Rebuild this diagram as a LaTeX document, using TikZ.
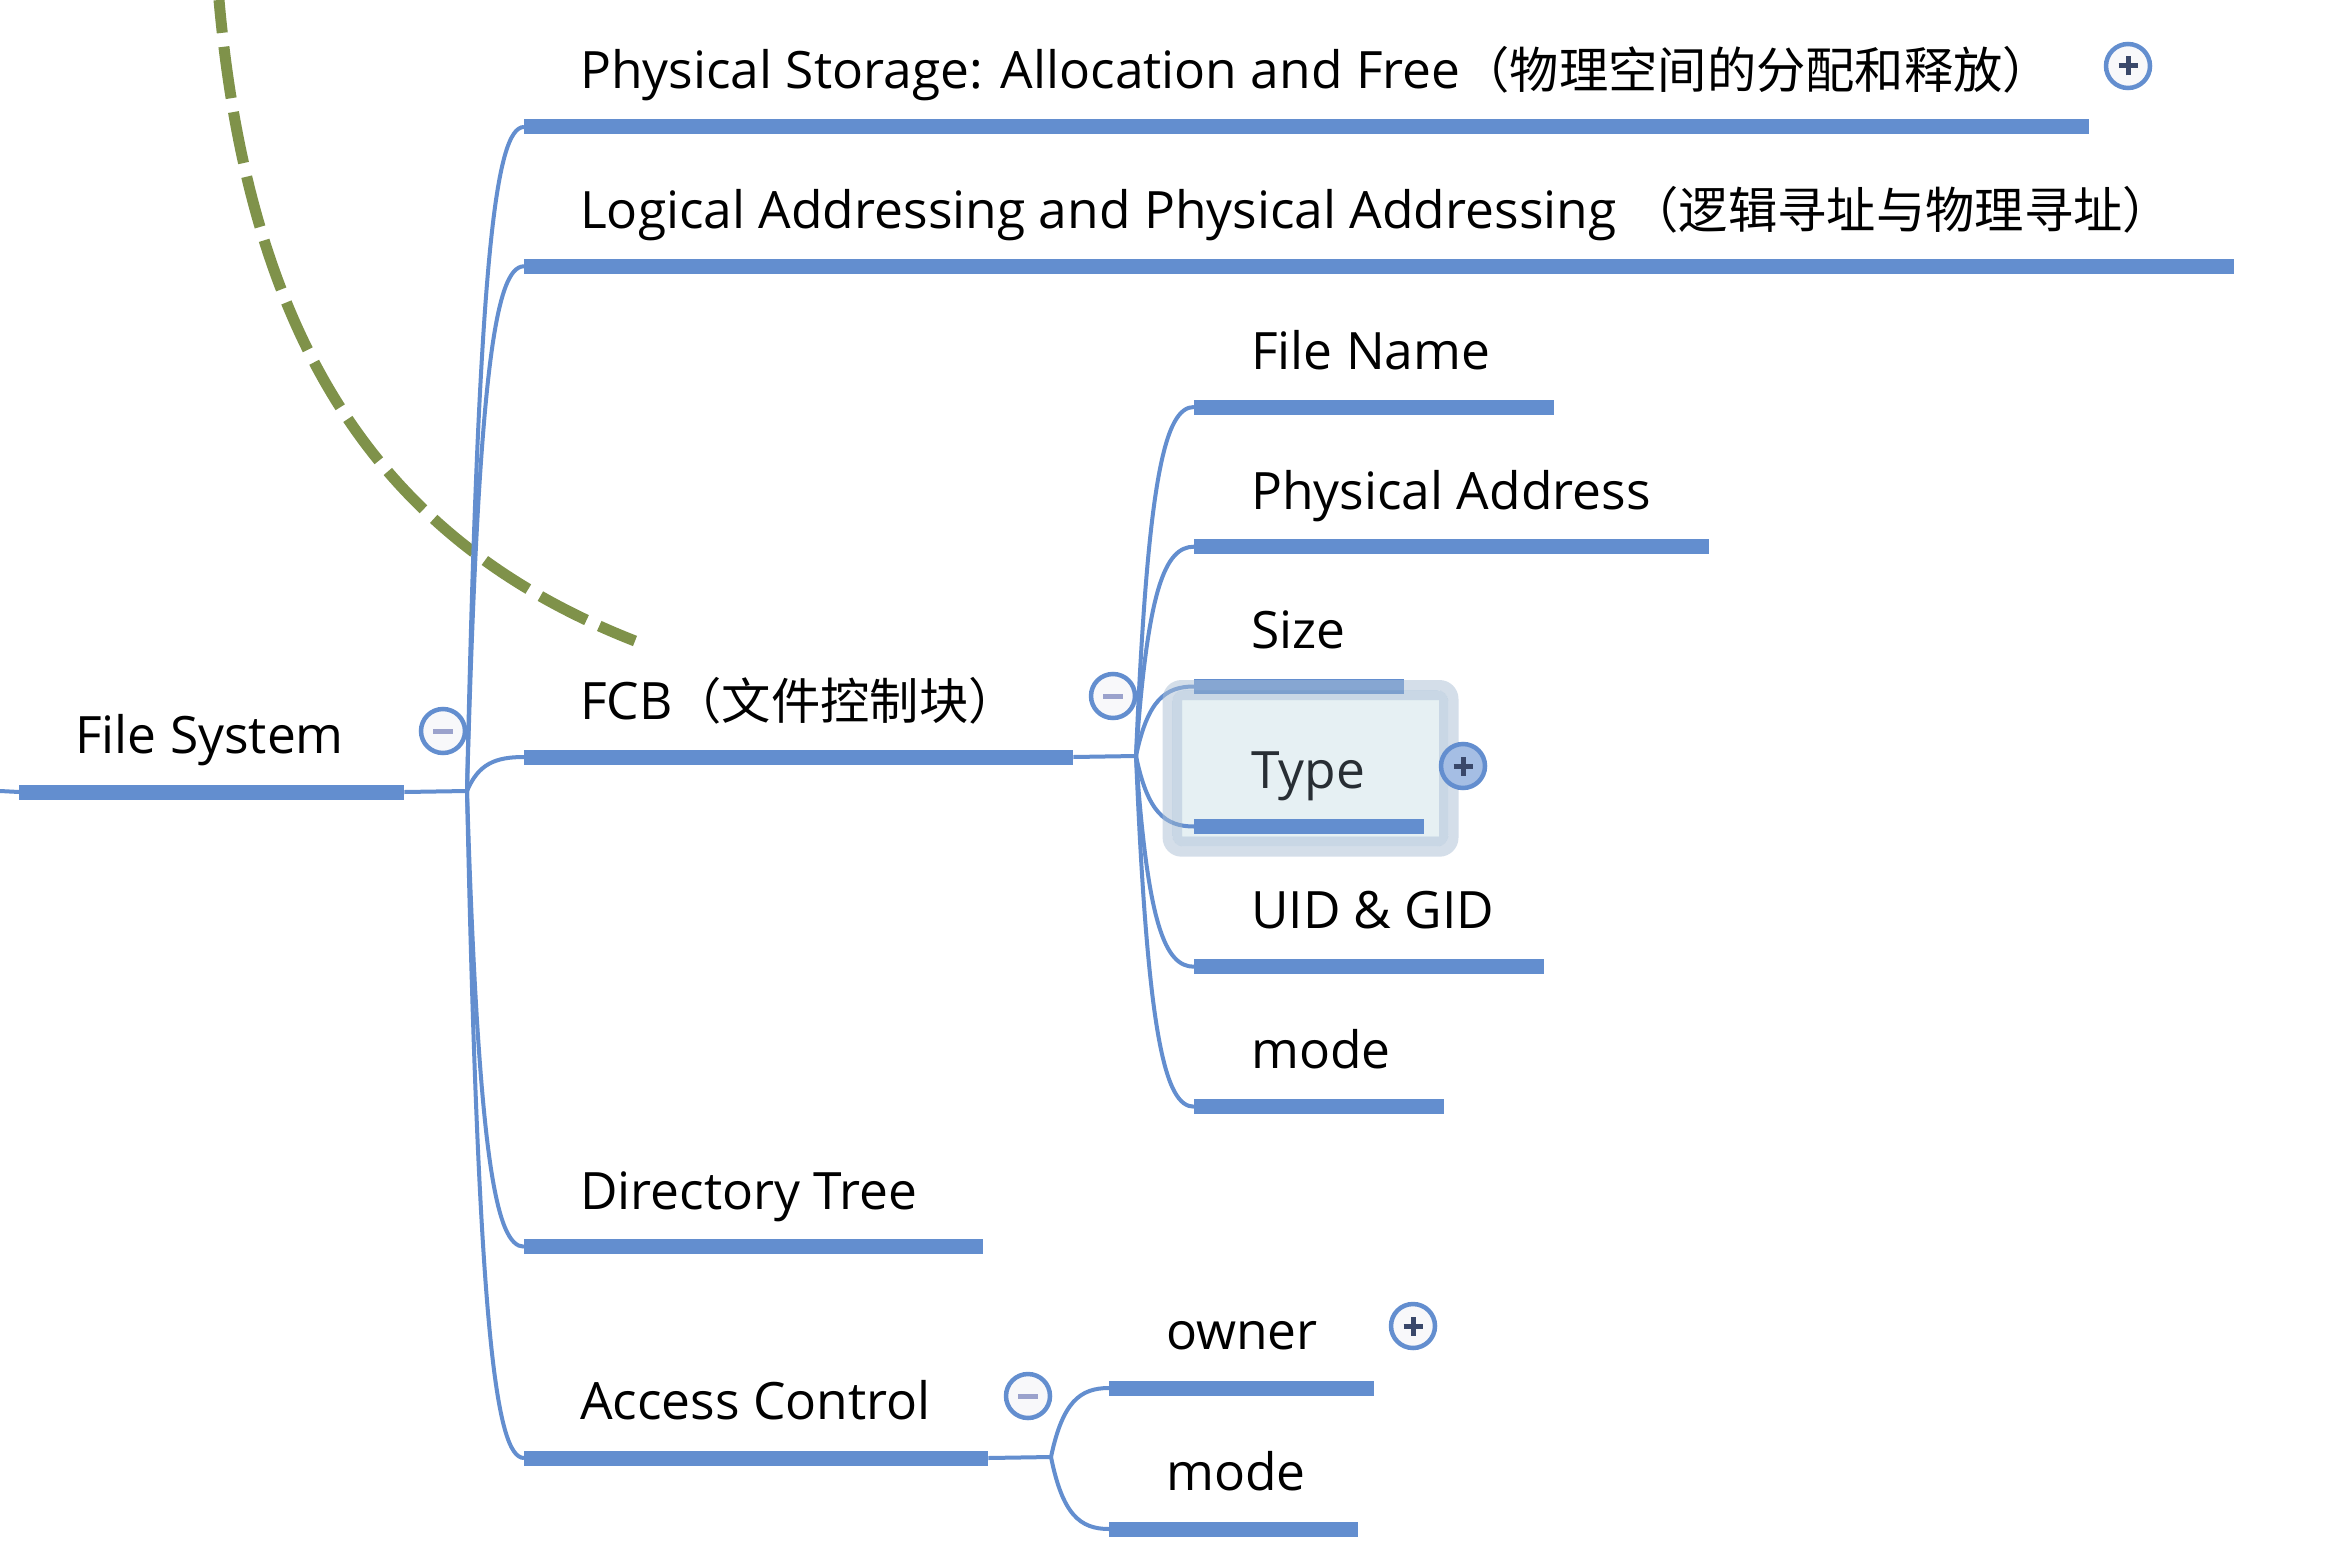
\documentclass[tikz,border=0pt]{standalone}
\usepackage{fontspec}
\setmainfont{Open Sans}
\newfontfamily\cjkfont{Noto Sans CJK SC}
\usetikzlibrary{calc}
\definecolor{barblue}{RGB}{99,142,207}
\definecolor{dashgreen}{RGB}{127,146,74}
\definecolor{btnfill}{RGB}{248,248,250}
\definecolor{minuscol}{RGB}{155,162,204}
\definecolor{pluscol}{RGB}{58,72,106}
\definecolor{selA}{RGB}{170,190,213}
\definecolor{selB}{RGB}{149,177,205}
\definecolor{selIn}{RGB}{230,240,243}
\definecolor{typetext}{RGB}{40,46,52}
\definecolor{typebtn}{RGB}{165,190,228}
\newcommand\zh[1]{{\cjkfont\fontsize{49.3}{60}\selectfont #1}}
\newcommand\mmconn[2]{\draw[conn] let \p1=(#1), \p2=(#2) in (\p1) .. controls ({\x1+0.2*(\x2-\x1)},{\y1+0.8*(\y2-\y1)}) and ({\x1+0.5*(\x2-\x1)},{\y2}) .. (\p2);}
\newcommand\minusbtn[2]{\node[btn] (#1) at (#2) {};
  \draw[minuscol, line width=5pt] ([xshift=-10pt]#1.center) -- ([xshift=10pt]#1.center);}
\newcommand\plusbtn[3][btnfill]{\node[btn, fill=#1] (#2) at (#3) {};
  \draw[pluscol, line width=5pt] ([xshift=-9.5pt]#2.center) -- ([xshift=9.5pt]#2.center)
    ([yshift=-9.5pt]#2.center) -- ([yshift=9.5pt]#2.center);}
\begin{document}
\begin{tikzpicture}[x=1pt,y=-1pt,
  bar/.style={rectangle, fill=barblue, inner sep=0pt, minimum height=15pt, anchor=west},
  conn/.style={draw=barblue, line width=4pt},
  lbl/.style={inner sep=0pt, anchor=base west, font=\fontsize{51.5}{62}\selectfont},
  btn/.style={circle, draw=barblue, line width=4.5pt, fill=btnfill, minimum size=44pt, inner sep=0pt},
]
\fill[white] (0,0) rectangle (2326,1552);
\useasboundingbox (0,0) rectangle (2326,1552);

% selection box inner fill (beneath)
\fill[selIn] (1182,700) rectangle (1439,836.7);

% relationship dashed curve
\coordinate (relA) at (219,0);
\coordinate (relB) at (635,641);
\draw[dashgreen, line width=11pt, dash pattern=on 52pt off 14pt, dash phase=19pt]
  (relA) .. controls (251,359) and (393,546) .. (relB);

% junctions
\coordinate (L0) at (0,791);
\coordinate (J0) at (467,791);
\coordinate (J1) at (1136,756);
\coordinate (J2) at (1051,1457);

% bars
\node[bar, minimum width=385pt] (root) at (19,792) {};
\node[bar, minimum width=1565pt] (ps) at (524,127) {};
\node[bar, minimum width=1710pt] (la) at (524,266.3) {};
\node[bar, minimum width=549pt] (fcb) at (524,757) {};
\node[bar, minimum width=459pt] (dt) at (524,1246.7) {};
\node[bar, minimum width=464pt] (ac) at (524,1458) {};
\node[bar, minimum width=360pt] (fn) at (1194,407) {};
\node[bar, minimum width=515pt] (pa) at (1194,546.7) {};
\node[bar, minimum width=210pt] (sz) at (1194,686.5) {};
\node[bar, minimum width=230pt] (ty) at (1194,826.5) {};
\node[bar, minimum width=350pt] (ug) at (1194,966.7) {};
\node[bar, minimum width=250pt] (md) at (1194,1106.7) {};
\node[bar, minimum width=265pt] (ow) at (1109,1388) {};
\node[bar, minimum width=249pt] (mo) at (1109,1529) {};

% connectors
\draw[conn] (L0) -- (root.west);
\draw[conn] (root.east) -- (J0);
\draw[conn] (fcb.east) -- (J1);
\draw[conn] (ac.east) -- (J2);
\mmconn{J0}{ps.west}
\mmconn{J0}{la.west}
\mmconn{J0}{fcb.west}
\mmconn{J0}{dt.west}
\mmconn{J0}{ac.west}
\mmconn{J1}{fn.west}
\mmconn{J1}{pa.west}
\mmconn{J1}{sz.west}
\mmconn{J1}{ty.west}
\mmconn{J1}{ug.west}
\mmconn{J1}{md.west}
\mmconn{J2}{ow.west}
\mmconn{J2}{mo.west}

% selection rings (over)
\fill[selA, fill opacity=0.5, even odd rule] [rounded corners=19pt] (1162.6,680) rectangle (1458.5,856.7)
  [rounded corners=12pt] (1172,690) rectangle (1448.5,846.7);
\fill[selB, fill opacity=0.5, even odd rule] [rounded corners=12pt] (1172,690) rectangle (1448.5,846.7)
  [sharp corners] (1182,700) rectangle (1439,836.7);
\node[bar, minimum width=230pt] (ty2) at (1194,826.5) {};

% labels
\node[lbl] (t-root) at (75,753.5) {File System};
\node[lbl] (t-ps) at (580,89) {Physical Storage: Allocation and Free\zh{（物理空间的分配和释放）}};
\node[lbl] (t-la) at (580,228.3) {Logical Addressing and Physical Addressing \zh{（逻辑寻址与物理寻址）}};
\node[lbl] (t-fcb) at (580,719) {FCB\zh{（文件控制块）}};
\node[lbl] (t-dt) at (580,1209) {Directory Tree};
\node[lbl] (t-ac) at (580,1419) {Access Control};
\node[lbl] (t-fn) at (1251,369) {File Name};
\node[lbl] (t-pa) at (1251,509.3) {Physical Address};
\node[lbl] (t-sz) at (1251,648.5) {Size};
\node[lbl, text=typetext] (t-ty) at (1251,788.5) {Type};
\node[lbl] (t-ug) at (1251,928.7) {UID \& GID};
\node[lbl] (t-md) at (1251,1068.7) {mode};
\node[lbl] (t-ow) at (1166,1349) {owner};
\node[lbl] (t-mo) at (1166,1490) {mode};

% buttons
\minusbtn{b-root}{443,731}
\minusbtn{b-fcb}{1113,696}
\minusbtn{b-ac}{1028,1396}
\plusbtn{b-ps}{2128,66}
\plusbtn{b-ow}{1413,1326}
\plusbtn[typebtn]{b-ty}{1463,766}
\end{tikzpicture}
\end{document}
